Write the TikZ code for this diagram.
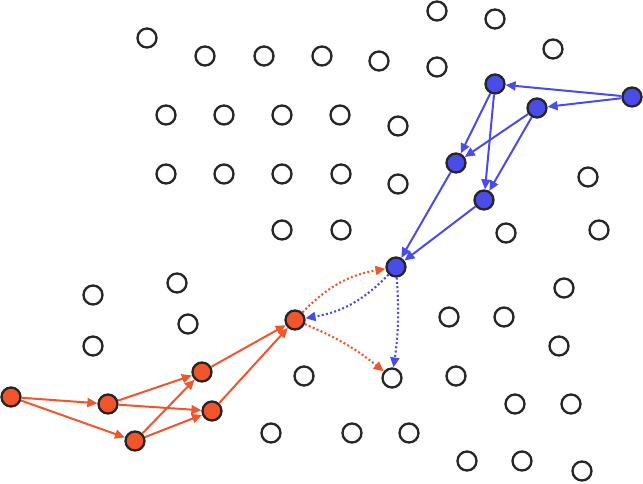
\documentclass[tikz,border=0pt]{standalone}
\usetikzlibrary{arrows.meta}
\definecolor{bluenode}{RGB}{74,76,234}
\definecolor{rednode}{RGB}{242,84,44}
\tikzset{
  emptynode/.style={circle,draw=black!85,line width=2.3pt,minimum size=19pt,inner sep=0pt,fill=white},
  bluedot/.style={emptynode,fill=bluenode},
  reddot/.style={emptynode,fill=rednode},
  tip/.style={-{Triangle[length=10pt,width=9pt]}},
  blueedge/.style={tip,draw=bluenode,line width=2pt},
  rededge/.style={tip,draw=rednode,line width=2pt},
  bluedotted/.style={tip,draw=bluenode,line width=2.1pt,dash pattern=on 2pt off 2.3pt},
  reddotted/.style={tip,draw=rednode,line width=2.1pt,dash pattern=on 2pt off 2.3pt}
}
\begin{document}
\begin{tikzpicture}[x=1pt,y=-1pt]
\useasboundingbox (0,0) rectangle (643,484);
% empty nodes
\foreach \x/\y [count=\i] in {437/11,495/19,147/38,205/56,264/56,322/56,379/61,437/67,553/49,
  166/115,224/115,282/115,340/115,398/126,
  166/174,224/174,282/174,341/174,398/184,588/177,
  282/230,341/230,506/233,599/230,
  93/295,177/283,564/288,
  188/324,449/317,504/317,
  93/346,559/346,
  304/376,456/376,
  515/404,571/404,
  271/433,352/433,409/433,
  467/461,522/461,582/471}
  \node[emptynode] (e\i) at (\x,\y) {};
\node[emptynode] (t) at (392,378) {};
% blue nodes
\node[bluedot] (b1) at (495,84) {};
\node[bluedot] (b2) at (537,108) {};
\node[bluedot] (b3) at (632,97) {};
\node[bluedot] (b4) at (456,163) {};
\node[bluedot] (b5) at (484,200) {};
\node[bluedot] (b6) at (396,267) {};
% red nodes
\node[reddot] (r1) at (11,397) {};
\node[reddot] (r2) at (108,404) {};
\node[reddot] (r3) at (135,441) {};
\node[reddot] (r4) at (202,372) {};
\node[reddot] (r5) at (212,411) {};
\node[reddot] (r6) at (295,320) {};
% blue edges
\draw[blueedge] (b3) -- (b1);
\draw[blueedge] (b3) -- (b2);
\draw[blueedge] (b1) -- (b4);
\draw[blueedge] (b1) -- (b5);
\draw[blueedge] (b2) -- (b4);
\draw[blueedge] (b2) -- (b5);
\draw[blueedge] (b4) -- (b6);
\draw[blueedge] (b5) -- (b6);
% red edges
\draw[rededge] (r1) -- (r2);
\draw[rededge] (r1) -- (r3);
\draw[rededge] (r2) -- (r4);
\draw[rededge] (r2) -- (r5);
\draw[rededge] (r3) -- (r4);
\draw[rededge] (r3) -- (r5);
\draw[rededge] (r4) -- (r6);
\draw[rededge] (r5) -- (r6);
% dotted connections
\draw[reddotted] (r6) to[bend left=18] (b6);
\draw[bluedotted] (b6) to[bend left=18] (r6);
\draw[bluedotted] (b6) to[bend left=6] (t);
\draw[reddotted] (r6) to[bend left=8] (t);
\end{tikzpicture}
\end{document}
